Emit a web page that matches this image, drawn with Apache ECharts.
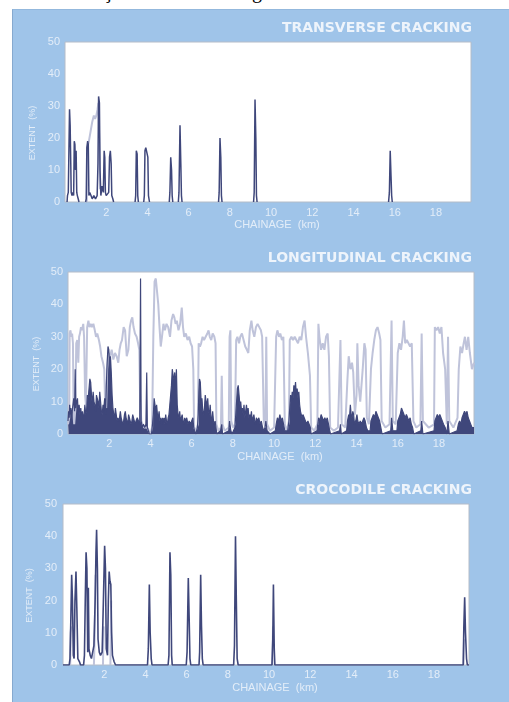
<!DOCTYPE html>
<html>
<head>
<meta charset="utf-8">
<script src="https://cdn.jsdelivr.net/npm/echarts@6/dist/echarts.min.js"></script>
<style>
html,body{margin:0;padding:0;background:#fff;width:509px;height:702px;overflow:hidden;}
#cap{position:absolute;left:-50px;top:-19px;font:20px/20px "Liberation Serif",serif;color:#000;white-space:nowrap;}
#panel{position:absolute;left:12px;top:9px;width:497px;height:693px;background:#9fc4e9;border-left:1px solid #86a9cf;border-top:1px solid #93b8dd;box-sizing:border-box;}
#chart{position:absolute;left:0;top:0;width:509px;height:702px;}
</style>
</head>
<body>
<div id="cap">Figura 3.8 – Ilustração das áreas de algumas anomalias</div>
<div id="panel"></div>
<div id="chart"></div>
<script>
// ---- data (chainage km, extent %) ----
var titles = ['TRANSVERSE CRACKING', 'LONGITUDINAL CRACKING', 'CROCODILE CRACKING'];
var xLabel = 'CHAINAGE  (km)';
var yLabel = 'EXTENT  (%)';

var T_light = [[1.06,0],[1.09,17],[1.16,19],[1.24,22],[1.32,25],[1.4,27],[1.46,26],[1.52,27],[1.58,29],[1.62,31],[1.66,20],[1.7,4],[1.72,null],
  [0.14,null],[0.16,15],[0.19,15],[0.21,null]];
var T_dark = [[0.1,0],[0.12,2],[0.16,3],[0.19,16],[0.22,29],[0.25,24],[0.28,12],[0.3,3],[0.34,2],[0.38,3],[0.42,2],[0.45,19],[0.48,18],[0.51,10],[0.54,16],[0.57,3],[0.6,2],[0.64,1],[0.68,0],[0.7,null],
  [1.0,0],[1.03,1],[1.06,17],[1.1,19],[1.13,18],[1.16,2],[1.2,3],[1.26,2],[1.32,1],[1.4,2],[1.48,1],[1.56,2],[1.6,12],[1.63,33],[1.67,31],[1.7,10],[1.74,2],[1.8,5],[1.86,3],[1.9,16],[1.93,14],[1.96,3],[2.0,2],[2.06,2],[2.12,3],[2.16,14],[2.2,16],[2.24,12],[2.27,2],[2.32,1],[2.36,0],[2.4,null],
  [3.4,0],[3.43,2],[3.46,16],[3.5,15],[3.53,2],[3.56,0],[3.6,null],
  [3.82,0],[3.85,2],[3.88,16],[3.92,17],[3.98,17],[4.02,14],[4.05,2],[4.1,0],[4.12,null],
  [5.06,0],[5.09,3],[5.13,14],[5.17,10],[5.2,2],[5.23,0],[5.25,null],
  [5.5,0],[5.53,3],[5.58,24],[5.62,12],[5.65,2],[5.68,0],[5.7,null],
  [7.45,0],[7.48,3],[7.52,20],[7.56,14],[7.59,2],[7.62,0],[7.64,null],
  [9.15,0],[9.18,3],[9.22,32],[9.26,20],[9.29,2],[9.32,0],[9.34,null],
  [15.7,0],[15.74,3],[15.78,16],[15.82,8],[15.85,2],[15.88,0]];

var L_light = [[0,3],[0.06,5],[0.08,31],[0.12,32],[0.16,30],[0.2,31],[0.24,28],[0.27,6],[0.3,3],[0.36,8],[0.4,28],[0.45,29],[0.5,22],[0.54,30],[0.58,31],[0.63,33],[0.68,32],[0.74,34],[0.78,30],[0.83,12],[0.87,9],[0.93,33],[0.99,35],[1.04,33],[1.1,34],[1.16,33],[1.23,34],[1.3,32],[1.36,30],[1.42,31],[1.5,29],[1.56,27],[1.62,24],[1.7,22],[1.76,20],[1.8,10],[1.85,8],[1.9,20],[1.96,25],[2.04,24],[2.12,26],[2.2,23],[2.28,25],[2.36,24],[2.44,22],[2.5,26],[2.56,28],[2.62,29],[2.7,33],[2.77,32],[2.85,24],[2.93,26],[3.0,33],[3.06,35],[3.12,36],[3.18,33],[3.25,31],[3.33,30],[3.4,28],[3.46,26],[3.5,10],[3.56,4],[3.62,3],[3.7,2],[3.78,2],[3.84,2],[3.92,1],[4.0,0],[4.08,2],[4.14,30],[4.2,47],[4.26,48],[4.32,44],[4.38,40],[4.44,33],[4.5,27],[4.56,30],[4.63,34],[4.7,32],[4.78,34],[4.86,33],[4.95,30],[5.02,35],[5.1,37],[5.16,36],[5.22,34],[5.28,35],[5.36,32],[5.44,34],[5.52,39],[5.58,33],[5.64,30],[5.72,31],[5.8,29],[5.88,30],[5.95,28],[6.02,27],[6.08,20],[6.12,2],[6.2,1],[6.3,3],[6.34,28],[6.4,27],[6.46,28],[6.53,30],[6.6,29],[6.68,30],[6.76,31],[6.82,32],[6.88,30],[6.95,29],[7.02,31],[7.1,30],[7.16,28],[7.2,3],[7.3,1],[7.42,2],[7.46,18],[7.5,3],[7.6,1],[7.8,2],[7.84,30],[7.88,32],[7.92,4],[8.0,2],[8.1,3],[8.16,29],[8.22,30],[8.3,28],[8.36,30],[8.44,31],[8.52,29],[8.6,27],[8.68,26],[8.75,25],[8.82,32],[8.9,35],[8.96,32],[9.04,30],[9.12,33],[9.2,34],[9.28,33],[9.36,32],[9.42,30],[9.5,4],[9.58,2],[9.62,30],[9.66,3],[9.8,1],[10.0,2],[10.1,30],[10.16,32],[10.24,30],[10.3,31],[10.38,29],[10.45,30],[10.52,3],[10.62,1],[10.72,4],[10.76,29],[10.84,30],[10.92,29],[11.0,30],[11.08,29],[11.16,28],[11.24,30],[11.32,29],[11.4,33],[11.48,35],[11.55,30],[11.64,25],[11.74,18],[11.8,2],[11.95,1],[12.1,3],[12.15,34],[12.2,30],[12.28,26],[12.36,28],[12.44,26],[12.52,30],[12.6,31],[12.66,24],[12.72,2],[12.9,1],[13.1,2],[13.22,29],[13.28,3],[13.45,2],[13.56,17],[13.62,24],[13.7,20],[13.78,22],[13.84,19],[13.92,6],[14.0,12],[14.04,28],[14.1,15],[14.18,10],[14.3,20],[14.38,28],[14.44,26],[14.5,5],[14.6,3],[14.7,20],[14.78,25],[14.86,29],[14.94,32],[15.02,33],[15.1,31],[15.16,29],[15.22,4],[15.4,2],[15.6,3],[15.7,35],[15.76,4],[15.9,3],[16.0,25],[16.08,28],[16.16,26],[16.24,30],[16.3,35],[16.36,28],[16.44,29],[16.52,28],[16.6,27],[16.68,28],[16.76,4],[16.9,2],[17.1,3],[17.16,31],[17.22,4],[17.5,2],[17.76,3],[17.8,33],[17.88,32],[17.96,33],[18.04,31],[18.12,33],[18.2,25],[18.3,20],[18.38,3],[18.44,30],[18.5,4],[18.7,2],[18.9,5],[18.96,20],[19.04,27],[19.12,25],[19.2,28],[19.26,30],[19.34,26],[19.42,30],[19.5,25],[19.6,20],[19.7,22]];

var L_dark = [[0,4],[0.03,7],[0.06,5],[0.08,9],[0.11,6],[0.14,8],[0.17,5],[0.2,7],[0.24,9],[0.28,11],[0.32,7],[0.35,20],[0.38,8],[0.42,10],[0.46,11],[0.5,6],[0.54,9],[0.58,6],[0.62,8],[0.66,5],[0.7,7],[0.74,5],[0.78,6],[0.82,9],[0.86,6],[0.9,7],[0.94,12],[0.98,11],[1.02,14],[1.06,17],[1.1,16],[1.14,12],[1.18,9],[1.22,13],[1.26,10],[1.3,9],[1.34,7],[1.38,12],[1.42,11],[1.46,10],[1.5,8],[1.54,13],[1.58,10],[1.62,7],[1.66,6],[1.7,9],[1.74,8],[1.78,11],[1.82,6],[1.86,15],[1.9,22],[1.94,27],[1.98,26],[2.02,21],[2.06,24],[2.1,19],[2.14,12],[2.18,8],[2.22,6],[2.26,5],[2.3,8],[2.34,6],[2.38,4],[2.42,5],[2.46,4],[2.5,5],[2.54,7],[2.58,5],[2.62,4],[2.66,3],[2.7,4],[2.74,6],[2.78,7],[2.82,5],[2.86,4],[2.9,3],[2.94,6],[2.98,5],[3.02,4],[3.06,3],[3.1,4],[3.14,6],[3.18,5],[3.22,4],[3.26,3],[3.3,4],[3.36,5],[3.42,4],[3.48,3],[3.52,48],[3.55,4],[3.6,2],[3.66,3],[3.72,2],[3.78,3],[3.82,19],[3.85,2],[3.9,1],[3.95,0],[4.05,0],[4.1,3],[4.14,6],[4.18,11],[4.22,9],[4.26,7],[4.3,9],[4.34,6],[4.38,5],[4.42,7],[4.46,4],[4.5,5],[4.54,3],[4.58,5],[4.62,4],[4.66,5],[4.7,3],[4.74,6],[4.78,4],[4.82,3],[4.86,5],[4.9,6],[4.94,9],[4.98,12],[5.02,15],[5.06,20],[5.1,18],[5.14,17],[5.18,19],[5.22,13],[5.26,20],[5.3,9],[5.34,6],[5.38,5],[5.42,7],[5.46,4],[5.5,5],[5.54,6],[5.58,4],[5.62,3],[5.66,5],[5.7,4],[5.76,5],[5.82,3],[5.88,4],[5.94,3],[6.0,4],[6.06,5],[6.1,2],[6.14,1],[6.2,0],[6.28,2],[6.32,6],[6.35,13],[6.38,17],[6.42,16],[6.46,10],[6.5,11],[6.54,7],[6.58,6],[6.62,8],[6.66,12],[6.7,10],[6.74,9],[6.78,11],[6.82,7],[6.86,6],[6.9,9],[6.94,5],[6.98,4],[7.02,7],[7.06,4],[7.1,3],[7.14,4],[7.18,2],[7.22,0],[7.4,1],[7.46,3],[7.5,0],[7.8,1],[7.84,4],[7.9,1],[7.96,0],[8.1,2],[8.14,6],[8.18,10],[8.22,14],[8.26,15],[8.3,12],[8.34,9],[8.38,10],[8.42,7],[8.46,8],[8.5,6],[8.54,9],[8.58,5],[8.62,7],[8.66,9],[8.7,6],[8.74,8],[8.78,5],[8.82,6],[8.86,5],[8.9,7],[8.94,4],[8.98,5],[9.02,6],[9.06,4],[9.1,3],[9.14,5],[9.2,4],[9.26,5],[9.32,3],[9.38,4],[9.44,2],[9.5,1],[9.56,2],[9.6,4],[9.66,1],[9.8,0],[10.06,1],[10.1,3],[10.16,5],[10.22,4],[10.28,6],[10.34,4],[10.4,5],[10.46,3],[10.52,1],[10.66,1],[10.72,4],[10.76,8],[10.8,12],[10.84,10],[10.88,13],[10.92,11],[10.96,15],[11.0,13],[11.04,16],[11.08,12],[11.12,14],[11.16,11],[11.2,13],[11.24,9],[11.28,7],[11.32,6],[11.36,5],[11.4,6],[11.46,5],[11.52,4],[11.58,3],[11.64,4],[11.7,3],[11.76,2],[11.8,0],[12.08,1],[12.12,3],[12.16,5],[12.22,4],[12.28,6],[12.34,5],[12.4,4],[12.46,5],[12.52,4],[12.58,5],[12.64,3],[12.7,1],[12.74,0],[13.18,1],[13.22,3],[13.26,0],[13.52,1],[13.56,4],[13.62,6],[13.66,5],[13.7,9],[13.74,6],[13.78,5],[13.82,7],[13.86,6],[13.9,3],[13.96,4],[14.02,6],[14.06,4],[14.12,3],[14.18,4],[14.24,3],[14.3,4],[14.36,5],[14.42,4],[14.48,2],[14.54,1],[14.66,1],[14.7,4],[14.76,5],[14.82,6],[14.88,5],[14.94,7],[15.0,6],[15.06,5],[15.12,4],[15.18,2],[15.24,0],[15.66,1],[15.7,5],[15.76,1],[15.96,1],[16.0,4],[16.06,5],[16.12,6],[16.18,8],[16.24,7],[16.3,6],[16.36,5],[16.42,6],[16.48,5],[16.54,4],[16.6,5],[16.66,3],[16.72,2],[16.78,0],[17.12,1],[17.16,4],[17.22,0],[17.76,1],[17.8,4],[17.86,5],[17.92,6],[17.98,5],[18.04,6],[18.1,5],[18.16,4],[18.22,3],[18.3,2],[18.38,0],[18.44,4],[18.5,0],[18.88,1],[18.94,3],[19.0,4],[19.06,3],[19.12,5],[19.18,6],[19.24,7],[19.3,6],[19.36,7],[19.42,5],[19.48,4],[19.54,3],[19.6,2],[19.7,2]];

var C_light = [[0.35,0],[0.37,10],[0.4,12],[0.43,null],[1.5,0],[1.54,10],[1.58,28],[1.6,null],[1.94,0],[1.97,12],[2.0,null],[2.3,0],[2.34,20],[2.38,null],[10.16,0],[10.19,12],[10.22,null],[19.43,0],[19.46,8],[19.5,null]];
var C_dark = [[0,0],[0.3,0],[0.34,2],[0.38,14],[0.42,28],[0.46,20],[0.5,3],[0.54,2],[0.58,20],[0.63,29],[0.67,18],[0.72,2],[0.8,1],[0.85,0],[1.0,0],[1.04,3],[1.08,20],[1.12,35],[1.16,30],[1.2,4],[1.23,24],[1.26,5],[1.32,3],[1.38,2],[1.44,4],[1.5,6],[1.56,20],[1.6,35],[1.63,42],[1.67,30],[1.7,8],[1.76,4],[1.82,3],[1.9,4],[1.96,20],[2.02,37],[2.06,30],[2.1,5],[2.16,3],[2.2,20],[2.24,29],[2.28,26],[2.32,25],[2.36,10],[2.4,3],[2.48,1],[2.55,0],[4.1,0],[4.14,5],[4.19,25],[4.23,10],[4.28,2],[4.32,0],[5.1,0],[5.14,3],[5.19,35],[5.23,28],[5.27,3],[5.3,0],[5.98,0],[6.02,4],[6.08,27],[6.12,15],[6.16,2],[6.2,0],[6.6,0],[6.63,4],[6.68,28],[6.72,12],[6.76,2],[6.8,0],[8.28,0],[8.32,6],[8.37,40],[8.41,20],[8.45,2],[8.5,0],[10.14,0],[10.18,8],[10.21,25],[10.25,5],[10.28,0],[19.42,0],[19.45,12],[19.49,21],[19.53,10],[19.58,2],[19.62,0],[19.7,0]];

// ---- layout ----
var grids = [
  {left:65, top:42, width:406, height:160, titleY:28, xm:5, ym:5, extX:33},
  {left:68, top:272, width:406, height:162, titleY:258, xm:4, ym:5, extX:37},
  {left:63, top:504, width:406, height:161, titleY:490, xm:4, ym:6, extX:30}
];
var DARK = '#3f477b', LIGHT = '#bfc3da', LBL = '#e3edf8';

var option = {
  backgroundColor: 'transparent',
  animation: false,
  grid: grids.map(function(g){return {left:g.left, top:g.top, width:g.width, height:g.height, show:true, backgroundColor:'#ffffff', borderColor:'#b4bcc8', borderWidth:1};}),
  xAxis: grids.map(function(g,i){return {type:'value', gridIndex:i, min:0, max:19.7, interval:2,
    axisLine:{show:false}, axisTick:{show:false}, splitLine:{show:false},
    axisLabel:{showMinLabel:false, showMaxLabel:false, color:LBL, fontSize:11, fontFamily:'Liberation Sans', margin:g.xm}};}),
  yAxis: grids.map(function(g,i){return {type:'value', gridIndex:i, min:0, max:50, interval:10,
    axisLine:{show:false}, axisTick:{show:false}, splitLine:{show:false},
    axisLabel:{color:LBL, fontSize:11, fontFamily:'Liberation Sans', margin:g.ym}};}),
  series: [
    {type:'line', xAxisIndex:0, yAxisIndex:0, data:T_light, showSymbol:false, lineStyle:{color:LIGHT, width:2}, connectNulls:false},
    {type:'line', xAxisIndex:0, yAxisIndex:0, data:T_dark, showSymbol:false, lineStyle:{color:DARK, width:1.5}, connectNulls:false},
    {type:'line', xAxisIndex:1, yAxisIndex:1, data:L_light, showSymbol:false, lineStyle:{color:LIGHT, width:2}},
    {type:'line', xAxisIndex:1, yAxisIndex:1, data:L_dark, showSymbol:false, lineStyle:{color:DARK, width:1.2}, areaStyle:{color:DARK, opacity:1}},
    {type:'line', xAxisIndex:2, yAxisIndex:2, data:C_light, showSymbol:false, lineStyle:{color:LIGHT, width:2}, connectNulls:false},
    {type:'line', xAxisIndex:2, yAxisIndex:2, data:C_dark, showSymbol:false, lineStyle:{color:DARK, width:1.6}}
  ],
  graphic: []
};
grids.forEach(function(g,i){
  option.graphic.push({type:'text', x:472, y:g.titleY, style:{text:titles[i], fill:'#eef4fb', font:'bold 14px "DejaVu Sans"', textAlign:'right', textVerticalAlign:'middle'}});
  option.graphic.push({type:'text', x:g.left + g.width/2 + 9, y:g.top + g.height + 23, style:{text:xLabel, fill:LBL, font:'11px "Liberation Sans"', textAlign:'center', textVerticalAlign:'middle'}});
  option.graphic.push({type:'text', x:g.extX, y:g.top + g.height/2 + 11, rotation:Math.PI/2, style:{text:yLabel, fill:LBL, font:'9px "Liberation Sans"', textAlign:'center', textVerticalAlign:'middle'}});
});
var chart = echarts.init(document.getElementById('chart'));
chart.setOption(option);
</script>
</body>
</html>
